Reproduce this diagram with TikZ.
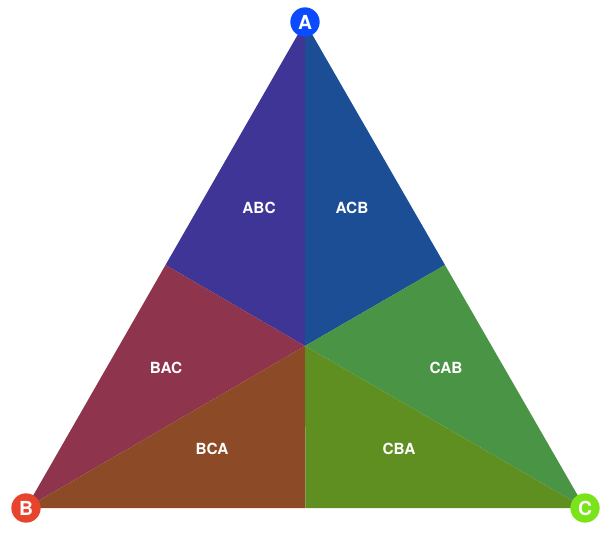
\documentclass[tikz,border=0pt]{standalone}
\usepackage{fontspec}
\setmainfont{TeX Gyre Heros}
\usetikzlibrary{calc}

\definecolor{cabc}{HTML}{3F3596}
\definecolor{cacb}{HTML}{1C4E96}
\definecolor{cbac}{HTML}{8E344D}
\definecolor{cbca}{HTML}{8C4A26}
\definecolor{ccab}{HTML}{4A9446}
\definecolor{ccba}{HTML}{5E8F20}
\definecolor{vA}{HTML}{0A4BFF}
\definecolor{vB}{HTML}{E8432C}
\definecolor{vC}{HTML}{7AE31A}

\tikzset{
  vertex/.style={circle,inner sep=0pt,minimum size=22pt,text=white,font=\bfseries\fontsize{14.5}{14.5}\selectfont},
  region/.style={text=white,font=\bfseries\fontsize{11.5}{11.5}\selectfont}
}

\begin{document}
\begin{tikzpicture}[x=0.75pt,y=-0.75pt]
  \useasboundingbox (0,0) rectangle (615,544);

  \coordinate (pa) at (305,22);
  \coordinate (pb) at (26,508);
  \coordinate (pc) at (585,508);
  \coordinate (mab) at ($(pa)!0.5!(pb)$);
  \coordinate (mac) at ($(pa)!0.5!(pc)$);
  \coordinate (mbc) at ($(pb)!0.5!(pc)$);
  \coordinate (o) at (305,346);

  \fill[cabc] (pa) -- (mab) -- (o) -- cycle;
  \fill[cacb] (pa) -- (mac) -- (o) -- cycle;
  \fill[cbac] (pb) -- (mab) -- (o) -- cycle;
  \fill[cbca] (pb) -- (mbc) -- (o) -- cycle;
  \fill[ccab] (pc) -- (mac) -- (o) -- cycle;
  \fill[ccba] (pc) -- (mbc) -- (o) -- cycle;

  \node[region] (abc) at (259,208) {ABC};
  \node[region] (acb) at (352,208) {ACB};
  \node[region] (bac) at (166,368) {BAC};
  \node[region] (cab) at (446,368) {CAB};
  \node[region] (bca) at (212,449) {BCA};
  \node[region] (cba) at (399,449) {CBA};

  \node[vertex,fill=vA] (a) at (pa) {A};
  \node[vertex,fill=vB] (b) at (pb) {B};
  \node[vertex,fill=vC] (c) at (pc) {C};
\end{tikzpicture}
\end{document}
